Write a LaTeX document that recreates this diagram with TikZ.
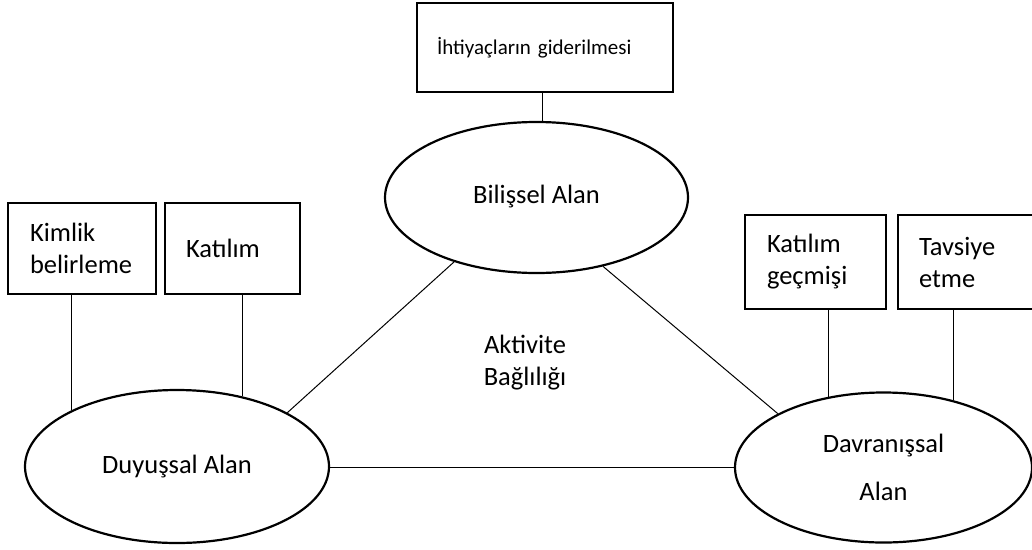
\documentclass[tikz,border=0pt]{standalone}
\usepackage{fontspec}
\setmainfont{Carlito}
\usetikzlibrary{shapes.geometric}
\tikzset{
  bigtxt/.style={font=\fontsize{26.5}{32}\selectfont},
  boxnode/.style={draw, line width=1.1pt, rectangle, align=left, inner ysep=0pt, bigtxt},
  ovalnode/.style={draw, line width=2.2pt, ellipse, inner sep=0pt, align=center, bigtxt},
  conn/.style={line width=1pt},
}
\begin{document}
\begin{tikzpicture}[x=1pt,y=-1pt]
\useasboundingbox (0,0) rectangle (1032,549);
\clip (0,0) rectangle (1032,549);

% top box
\node[boxnode, font=\fontsize{21}{25}\selectfont, minimum width=256pt, minimum height=89pt,
      inner xsep=20pt, text width=216pt] (top) at (545,47.5) {\raisebox{2pt}{İhtiyaçların giderilmesi}};

% ellipses
\node[ovalnode, minimum width=303pt, minimum height=151pt] (bil) at (536.5,197.5) {\raisebox{7pt}{Bilişsel Alan}};
\node[ovalnode, minimum width=304pt, minimum height=153pt] (duy) at (177,466.5) {Duyuşsal Alan};
\node[ovalnode, minimum width=297pt, minimum height=150pt] (dav) at (883.5,467.5) {Davranışsal\\[16pt]Alan};

% side boxes
\node[boxnode, minimum width=148pt, minimum height=91pt, inner xsep=22pt, text width=104pt] (kim) at (82,248.5) {Kimlik\\belirleme};
\node[boxnode, minimum width=135pt, minimum height=91pt, inner xsep=21pt, text width=93pt] (kat) at (232.5,248.5) {Katılım};
\node[boxnode, minimum width=141pt, minimum height=94pt, inner xsep=22pt, text width=97pt] (kg) at (815.5,262) {Katılım\\geçmişi};
\node[boxnode, minimum width=147pt, minimum height=94pt, inner xsep=21pt, text width=105pt] (tav) at (971.5,262) {Tavsiye\\etme};

% center text
\node[bigtxt, align=center, inner sep=0pt] (akt) at (525,362.5) {Aktivite\\Bağlılığı};

% connectors
\draw[conn] ([xshift=-3pt]top.south) -- ([xshift=5.5pt]bil.north);
\draw[conn] (duy.152.7) -- (duy.152.7 |- kim.south);
\draw[conn] (duy.47.3) -- (duy.47.3 |- kat.south);
\draw[conn] (dav.128.2) -- (dav.128.2 |- kg.south);
\draw[conn] (dav.44) -- (dav.44 |- tav.south);
\draw[conn] (bil.218.5) -- (duy.26.6);
\draw[conn] (bil.314.6) -- (dav.153.5);
\draw[conn] (dav.west -| duy.east) -- (dav.west);
\end{tikzpicture}
\end{document}
